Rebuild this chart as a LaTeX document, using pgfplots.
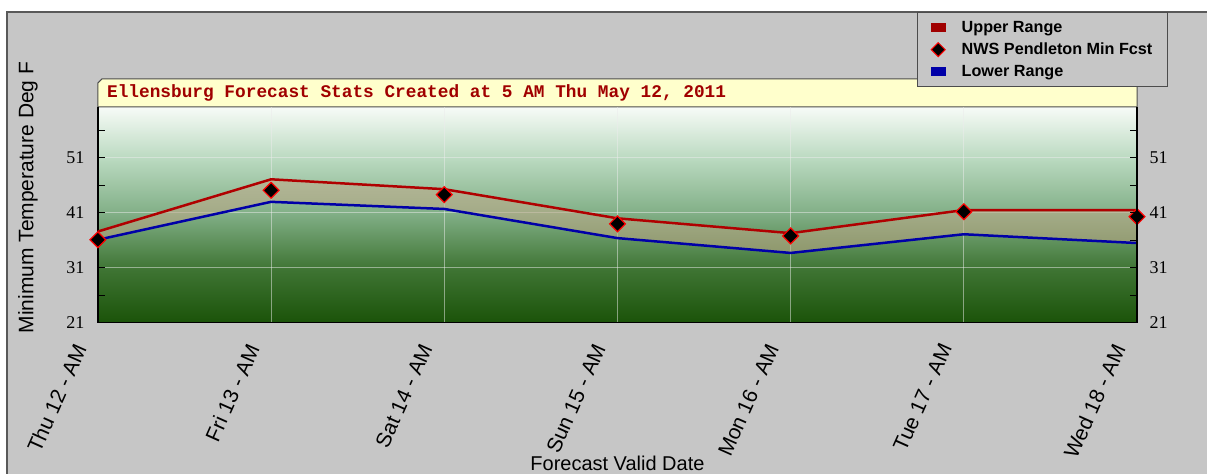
\documentclass[border=0pt]{standalone}
\usepackage{fontspec}
\setmainfont{Liberation Sans}
\newfontfamily\serifnum{Liberation Serif}
\newfontfamily\monot{Liberation Mono}
\usepackage{pgfplots}
\pgfplotsset{compat=1.18}
\definecolor{panel}{HTML}{C6C6C6}
\definecolor{titlefill}{HTML}{FFFFCC}
\definecolor{titlered}{HTML}{A00000}
\definecolor{upred}{HTML}{B00000}
\definecolor{lowblue}{HTML}{0000A8}
\definecolor{bandcol}{HTML}{C0A888}
\definecolor{bg0}{HTML}{1B5309}
\definecolor{bg1}{HTML}{3F7534}
\definecolor{bg2}{HTML}{80AE85}
\definecolor{bg3}{HTML}{B8D8BE}
\definecolor{bg4}{HTML}{F7FBF7}
\begin{document}
\begin{tikzpicture}[x=1pt,y=1pt]
\fill[white] (0,0) rectangle (1208,474);
\fill[panel] (7,0) rectangle (1208,462);
\draw[line width=2pt, draw=black!65] (7,0) -- (7,462) -- (1208,462);
% plot background gradient
\fill[bottom color=bg0, top color=bg1, draw=none] (98,151) rectangle (1138,205.5);
\fill[bottom color=bg1, top color=bg2, draw=none] (98,205) rectangle (1138,259.5);
\fill[bottom color=bg2, top color=bg3, draw=none] (98,259) rectangle (1138,313.5);
\fill[bottom color=bg3, top color=bg4, draw=none] (98,313) rectangle (1138,367);
% title box
\draw[fill=titlefill, draw=black!70, line width=1pt] (98,367) -- (98,391) -- (102,395) -- (1138,395) -- (1138,367) -- cycle;
\node[anchor=west, text=titlered, font=\monot\bfseries\fontsize{17.8}{18}\selectfont, inner sep=0pt] at (107,381) {Ellensburg Forecast Stats Created at 5 AM Thu May 12, 2011};
\begin{axis}[
  at={(98pt,151pt)}, anchor=south west, scale only axis,
  width=1040pt, height=216pt,
  xmin=0, xmax=6, ymin=21, ymax=60.27,
  axis x line*=bottom, axis y line*=left,
  axis line style={black, line width=1.5pt},
  xtick={0,1,2,3,4,5,6},
  xticklabels={Thu 12 - AM, Fri 13 - AM, Sat 14 - AM, Sun 15 - AM, Mon 16 - AM, Tue 17 - AM, Wed 18 - AM},
  xtick style={draw=none},
  xticklabel style={font=\fontsize{21}{21}\selectfont, rotate=66, anchor=north east, xshift=-24.2pt, yshift=18.2pt},
  ytick={21,31,41,51}, minor ytick={26,36,46,56},
  tick align=inside, major tick length=7pt, minor tick length=7pt,
  ytick style={black, line width=1pt}, minor tick style={black, line width=1pt},
  yticklabel style={font=\serifnum\fontsize{18}{18}\selectfont, xshift=-10pt},
  /pgf/number format/assume math mode=true,
  xmajorgrids, ymajorgrids,
  grid style={white!85!gray, line width=1pt, opacity=0.5},
  ylabel={Minimum Temperature Deg F},
  ylabel style={at={(axis description cs:-0.0673,0.58)}, anchor=center, rotate=0, font=\fontsize{21}{21}\selectfont},
  xlabel={Forecast Valid Date},
  xlabel style={at={(axis description cs:0.5,-0.65)}, anchor=center, font=\fontsize{20}{20}\selectfont},
  legend style={at={(0.7885,1.44)}, anchor=north west, fill=panel, draw=black!70, line width=1pt,
    font=\fontsize{16.2}{17}\selectfont\bfseries, cells={anchor=west}, inner xsep=13pt, inner ysep=7pt, row sep=5pt},
  clip=false,
]
\addplot[fill=bandcol, fill opacity=0.55, draw=none, forget plot] coordinates {(0,37.6) (1,47.1) (2,45.3) (3,40.0) (4,37.3) (5,41.5) (6,41.5) (6,35.5) (5,37.1) (4,33.7) (3,36.4) (2,41.7) (1,43.0) (0,36.1)} -- cycle;
\addplot[upred, line width=2.5pt, forget plot] coordinates {(0,37.6) (1,47.1) (2,45.3) (3,40.0) (4,37.3) (5,41.5) (6,41.5)};
\addplot[lowblue, line width=2.5pt, forget plot] coordinates {(0,36.1) (1,43.0) (2,41.7) (3,36.4) (4,33.7) (5,37.1) (6,35.5)};
\addplot[only marks, mark=square*, mark size=5.6pt, mark options={rotate=45, fill=black, draw=red, line width=1.2pt}, forget plot] coordinates {(0,36.1) (1,45.1) (2,44.3) (3,39.0) (4,36.8) (5,41.2) (6,40.3)};
\addlegendimage{legend image code/.code={\fill[titlered, draw=none] (0pt,-4.5pt) rectangle (15pt,4.5pt); \path[draw=none, fill=none] (0pt,-1pt) rectangle (29pt,1pt);}}
\addlegendentry{Upper Range}
\addlegendimage{legend image code/.code={\path[fill=black, draw=red, line width=1pt] (7.5pt,7pt) -- (14.5pt,0pt) -- (7.5pt,-7pt) -- (0.5pt,0pt) -- cycle; \path[draw=none, fill=none] (0pt,-1pt) rectangle (29pt,1pt);}}
\addlegendentry{NWS Pendleton Min Fcst}
\addlegendimage{legend image code/.code={\fill[lowblue, draw=none] (0pt,-4.5pt) rectangle (15pt,4.5pt); \path[draw=none, fill=none] (0pt,-1pt) rectangle (29pt,1pt);}}
\addlegendentry{Lower Range}
\end{axis}
\begin{axis}[
  at={(98pt,151pt)}, anchor=south west, scale only axis,
  width=1040pt, height=216pt,
  xmin=0, xmax=6, ymin=21, ymax=60.27,
  hide x axis, axis y line*=right,
  axis line style={black, line width=1.5pt},
  ytick={21,31,41,51}, minor ytick={26,36,46,56},
  tick align=inside, major tick length=7pt, minor tick length=7pt,
  ytick style={black, line width=1pt}, minor tick style={black, line width=1pt},
  yticklabel style={font=\serifnum\fontsize{18}{18}\selectfont, xshift=9pt},
  /pgf/number format/assume math mode=true,
]
\addplot[draw=none] coordinates {(0,30)};
\end{axis}
\end{tikzpicture}
\end{document}
